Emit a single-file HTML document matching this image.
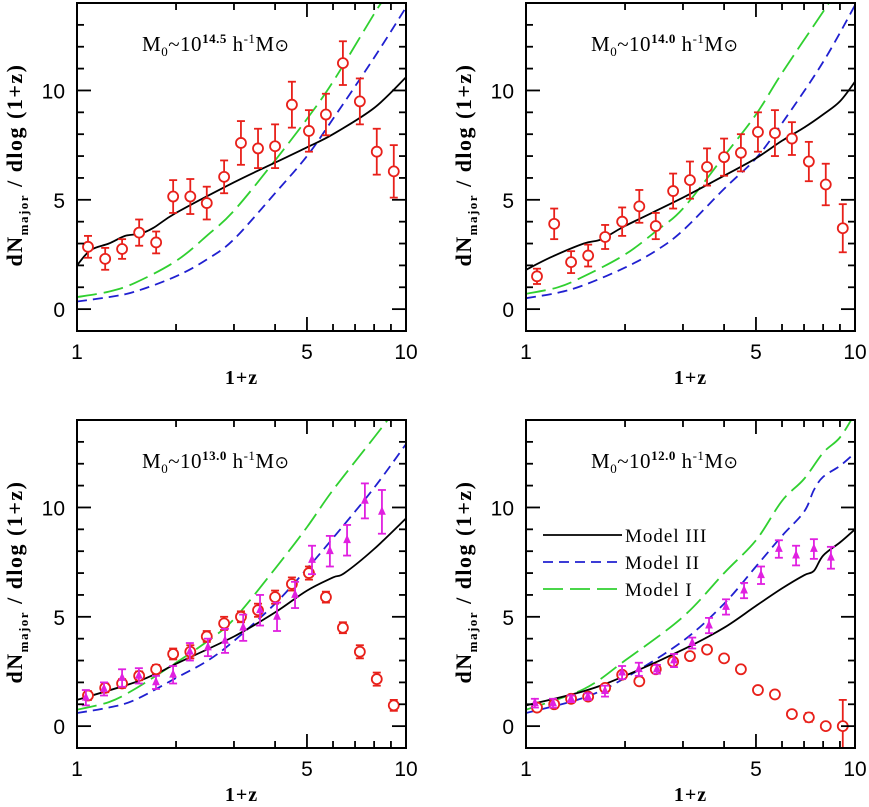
<!DOCTYPE html>
<html><head><meta charset="utf-8"><style>
body{margin:0;background:#fff;}
svg text{font-family:"Liberation Sans",sans-serif;}
</style></head><body>
<svg id="fig" width="869" height="802" viewBox="0 0 869 802" xmlns="http://www.w3.org/2000/svg"></svg>
<script>
// ---------- data ----------
const xRed = [1.08,1.218,1.371,1.545,1.74,1.96,2.21,2.48,2.80,3.15,3.55,4.0,4.5,5.07,5.71,6.43,7.24,8.15,9.18];
const xMag = [1.064,1.208,1.371,1.542,1.738,1.959,2.203,2.50,2.818,3.20,3.60,4.055,4.60,5.18,5.87,6.62,7.50,8.45];

const tlRed = [2.85,2.3,2.75,3.5,3.05,5.15,5.15,4.85,6.05,7.6,7.35,7.45,9.35,8.15,8.9,11.25,9.5,7.2,6.3];
const tlRedErr = [0.5,0.5,0.45,0.6,0.5,0.75,0.8,0.75,0.75,1.0,0.9,1.0,1.05,0.95,0.95,1.0,1.05,1.05,1.2];
const trRed = [1.5,3.9,2.15,2.45,3.3,4.0,4.7,3.8,5.4,5.9,6.5,6.95,7.15,8.1,8.05,7.8,6.75,5.7,3.7];
const trRedErr = [0.35,0.7,0.5,0.5,0.55,0.65,0.75,0.6,0.8,0.85,0.85,0.85,0.85,0.9,1.05,0.75,0.9,0.95,1.1];
const blRed = [1.4,1.75,1.95,2.3,2.6,3.3,3.4,4.1,4.7,5.0,5.3,5.9,6.5,7.0,5.9,4.5,3.4,2.15,0.95];
const blRedErr = [0.2,0.2,0.2,0.2,0.2,0.25,0.3,0.25,0.3,0.25,0.3,0.3,0.3,0.3,0.25,0.25,0.3,0.3,0.25];
const blMag = [1.3,1.7,2.2,2.3,2.0,2.35,3.4,3.6,3.9,4.5,5.3,5.0,6.0,7.6,8.0,8.5,10.3,9.8];
const blMagErr = [0.35,0.3,0.4,0.35,0.3,0.4,0.4,0.4,0.55,0.6,0.7,0.65,0.6,0.65,0.7,0.7,0.8,1.0];
const brRed = [0.85,1.0,1.25,1.35,1.75,2.35,2.05,2.6,2.95,3.2,3.5,3.1,2.6,1.65,1.45,0.55,0.4,0.0,0.0];
const brRedErr = [0.15,0.15,0.12,0.12,0.15,0.15,0.15,0.15,0.15,0.15,0.15,0.12,0.12,0.12,0.12,0.12,0.2,0.1,1.2];
const brMag = [1.05,1.05,1.25,1.35,1.6,2.45,2.6,2.6,3.0,3.8,4.6,5.45,6.2,6.9,8.1,7.8,8.1,7.7];
const brMagErr = [0.2,0.2,0.15,0.15,0.25,0.3,0.3,0.2,0.3,0.25,0.35,0.35,0.35,0.4,0.4,0.45,0.45,0.5];

const tlBlackX=[1,1.1,1.25,1.4,1.55,1.7,2,3,4,5,6,8,10], tlBlackY=[2.0,2.7,3.0,3.35,3.45,3.7,4.4,5.8,6.7,7.4,8.0,9.2,10.6];
const tlGreenX=[1,1.25,1.5,2,2.5,3,4,5,6,8,8.6], tlGreenY=[0.55,0.8,1.2,2.2,3.4,4.5,6.8,8.7,10.4,13.5,14.2];
const tlBlueX=[1,1.25,1.5,2,2.5,3,4,5,6,8,10], tlBlueY=[0.35,0.55,0.8,1.5,2.3,3.2,5.3,7.0,8.7,11.5,13.8];
const trBlackX=[1,1.2,1.5,1.7,2,3,4,5,6,7,8,9,10], trBlackY=[1.8,2.4,3.0,3.2,3.8,5.1,6.1,6.9,7.7,8.3,8.9,9.5,10.4];
const trGreenX=[1,1.25,1.5,2,2.5,3,4,5,6,8,8.5], trGreenY=[0.7,1.0,1.5,2.5,3.6,4.6,7.0,8.9,10.8,13.6,14.2];
const trBlueX=[1,1.25,1.5,2,2.5,3,4,5,6,8,10], trBlueY=[0.5,0.75,1.1,1.9,2.7,3.6,5.5,6.9,8.5,11.3,13.9];
const blBlackX=[1,1.5,1.8,2,3,4,5,6,6.5,8,10], blBlackY=[1.2,2.0,2.5,2.85,4.1,5.2,6.2,6.8,7.0,8.1,9.5];
const blGreenX=[1,1.25,1.5,2,2.5,3,4,5,6,8,9], blGreenY=[0.75,1.1,1.7,2.9,3.9,4.9,7.2,9.1,10.8,13.2,14.2];
const blBlueX=[1,1.25,1.5,2,2.5,3,4,5,6,8,10], blBlueY=[0.6,0.85,1.2,2.2,3.0,3.9,5.6,7.2,8.6,10.9,12.9];
const brBlackX=[1,1.5,2,3,4,5,6,7,7.5,8,9,10], brBlackY=[0.95,1.6,2.3,3.5,4.5,5.5,6.3,6.9,7.1,7.8,8.4,9.0];
const brBlueX=[1,1.5,2,3,4,5,6,7,7.5,8,9,10], brBlueY=[0.6,1.3,2.2,3.9,5.6,7.3,8.7,9.8,10.8,11.4,11.9,12.5];
const brGreenX=[1,1.5,2,3,4,5,6,7,8,9,10], brGreenY=[0.75,1.7,3.0,5.0,7.0,8.5,10.3,11.3,12.5,13.2,14.3];

const yTicks=[0,5,10], xTickLabels=["1","5","10"], xTickVals=[1,5,10];

// ---------- drawing ----------
const NS="http://www.w3.org/2000/svg";
const svg=document.getElementById('fig');
function mk(tag,attrs,parent){const e=document.createElementNS(NS,tag);for(const k in attrs)e.setAttribute(k,attrs[k]);(parent||svg).appendChild(e);return e;}
function smooth(pts){
  let d='M'+pts[0][0].toFixed(1)+' '+pts[0][1].toFixed(1);
  for(let i=0;i<pts.length-1;i++){
    const p0=pts[Math.max(0,i-1)],p1=pts[i],p2=pts[i+1],p3=pts[Math.min(pts.length-1,i+2)];
    const c1=[p1[0]+(p2[0]-p0[0])/6,p1[1]+(p2[1]-p0[1])/6];
    const c2=[p2[0]-(p3[0]-p1[0])/6,p2[1]-(p3[1]-p1[1])/6];
    d+=` C${c1[0].toFixed(1)} ${c1[1].toFixed(1)} ${c2[0].toFixed(1)} ${c2[1].toFixed(1)} ${p2[0].toFixed(1)} ${p2[1].toFixed(1)}`;
  }
  return d;
}

function panel(id,L,T,expo,red,redErr,mag,magErr,lines,legend){
  const W=329,H=328,ymin=-1,ymax=14;
  const g=mk('g',{});
  
  
  const sx=v=>L+W*Math.log10(v);
  const sy=v=>T+H*(ymax-v)/(ymax-ymin);
  const clip=mk('clipPath',{id:'c'+id},g);
  mk('rect',{x:L,y:T,width:W,height:H},clip);
  const cg=mk('g',{'clip-path':'url(#c'+id+')'},g);
  for(const ln of lines){
    const d=smooth(ln.x.map((v,i)=>[sx(v),sy(ln.y[i])]));
    const p=mk('path',{d:d,fill:'none',stroke:ln.c,'stroke-width':1.8,'stroke-dasharray':ln.dash||'none'},cg);
    
    
  }
  red.forEach((v,i)=>{
    const x=sx(xRed[i]),y=sy(v),e=redErr[i];
    const pg=mk('g',{stroke:'#e8201a','stroke-width':1.8,fill:'none'},cg);
    
    
    mk('line',{x1:x,x2:x,y1:sy(v+e),y2:sy(v-e)},pg);
    mk('line',{x1:x-4,x2:x+4,y1:sy(v+e),y2:sy(v+e)},pg);
    mk('line',{x1:x-4,x2:x+4,y1:sy(v-e),y2:sy(v-e)},pg);
    mk('circle',{cx:x,cy:y,r:5,fill:'#fff'},pg);
  });
  if(mag) mag.forEach((v,i)=>{
    const x=sx(xMag[i]),y=sy(v),e=magErr[i];
    const pg=mk('g',{stroke:'#e020e0','stroke-width':1.8,fill:'#e020e0'},cg);
    
    
    mk('line',{x1:x,x2:x,y1:sy(v+e),y2:sy(v-e)},pg);
    mk('line',{x1:x-4,x2:x+4,y1:sy(v+e),y2:sy(v+e)},pg);
    mk('line',{x1:x-4,x2:x+4,y1:sy(v-e),y2:sy(v-e)},pg);
    mk('path',{d:`M${x} ${y-3.5}L${x+2.5} ${y+2}L${x-2.5} ${y+2}Z`},pg);
  });
  const fr=mk('rect',{x:L,y:T,width:W,height:H,fill:'none',stroke:'#000','stroke-width':2},g);
  
  
  for(let d=1;d<=10;d++){
    const x=sx(d),len=(d===1||d===5||d===10)?14:7;
    mk('line',{x1:x,x2:x,y1:T+H,y2:T+H-len,stroke:'#000','stroke-width':1.8},g);
    mk('line',{x1:x,x2:x,y1:T,y2:T+len,stroke:'#000','stroke-width':1.8},g);
  }
  for(let v=ymin;v<=ymax;v++){
    const y=sy(v),len=(v%5===0)?14:7;
    mk('line',{x1:L,x2:L+len,y1:y,y2:y,stroke:'#000','stroke-width':1.8},g);
    mk('line',{x1:L+W,x2:L+W-len,y1:y,y2:y,stroke:'#000','stroke-width':1.8},g);
  }
  xTickVals.forEach((v,i)=>{
    const t=mk('text',{x:sx(v),y:T+H+28,'font-size':21,'text-anchor':'middle'},g);
    t.textContent=xTickLabels[i];
    
    
  });
  yTicks.forEach(v=>{
    const t=mk('text',{x:L-12,y:sy(v)+8,'font-size':21,'text-anchor':'end'},g);
    t.textContent=String(v);
    
    
  });
  const xt=mk('text',{x:L+W/2,y:T+H+53,'font-size':20,'text-anchor':'middle',style:'font-family:"Liberation Serif",serif;font-weight:bold;letter-spacing:1px'},g);
  xt.textContent='1+z';
  
  
  const yt=mk('text',{x:0,y:0,'font-size':22,'text-anchor':'middle',style:'font-family:"Liberation Serif",serif;font-weight:bold;letter-spacing:1.5px',transform:`translate(${L-55},${T+H/2-2}) rotate(-90)`},g);
  yt.innerHTML='dN<tspan font-size="13" dy="6">major</tspan><tspan dy="-6"> / dlog (1+z)</tspan>';
  
  
  const tt=mk('text',{x:L+65,y:T+48,'font-size':21,style:'font-family:"Liberation Serif",serif;letter-spacing:0.5px'},g);
  tt.innerHTML=`M<tspan font-size="13" dy="5">0</tspan><tspan dy="-5">~10</tspan><tspan font-size="13" dy="-8" font-weight="bold">${expo}</tspan><tspan dy="8"> h</tspan><tspan font-size="13" dy="-8">-1</tspan><tspan dy="8">M</tspan><tspan font-size="17">⊙</tspan>`;
  
  
  if(legend){
    const lg=mk('g',{},g);
    
    
    legend.forEach((e,i)=>{
      const y=T+115+i*27;
      const l=mk('line',{x1:L+17,x2:L+96,y1:y,y2:y,stroke:e.c,'stroke-width':1.8,'stroke-dasharray':e.dash||'none'},lg);
      
      
      const t=mk('text',{x:L+99,y:y+7,'font-size':19,style:'font-family:"Liberation Serif",serif;letter-spacing:1px'},lg);
      t.textContent=e.label;
      
      
    });
  }
}
const BLUE='#2020d0',GREEN='#30d030',BD='10 6',GD='20 7';
panel('tl',77,3,'14.5',tlRed,tlRedErr,null,null,[
  {x:tlGreenX,y:tlGreenY,c:GREEN,dash:GD,name:'model-i-line'},
  {x:tlBlueX,y:tlBlueY,c:BLUE,dash:BD,name:'model-ii-line'},
  {x:tlBlackX,y:tlBlackY,c:'#000',name:'model-iii-line'}]);
panel('tr',526,3,'14.0',trRed,trRedErr,null,null,[
  {x:trGreenX,y:trGreenY,c:GREEN,dash:GD,name:'model-i-line'},
  {x:trBlueX,y:trBlueY,c:BLUE,dash:BD,name:'model-ii-line'},
  {x:trBlackX,y:trBlackY,c:'#000',name:'model-iii-line'}]);
panel('bl',77,420,'13.0',blRed,blRedErr,blMag,blMagErr,[
  {x:blGreenX,y:blGreenY,c:GREEN,dash:GD,name:'model-i-line'},
  {x:blBlueX,y:blBlueY,c:BLUE,dash:BD,name:'model-ii-line'},
  {x:blBlackX,y:blBlackY,c:'#000',name:'model-iii-line'}]);
panel('br',526,420,'12.0',brRed,brRedErr,brMag,brMagErr,[
  {x:brGreenX,y:brGreenY,c:GREEN,dash:GD,name:'model-i-line'},
  {x:brBlueX,y:brBlueY,c:BLUE,dash:BD,name:'model-ii-line'},
  {x:brBlackX,y:brBlackY,c:'#000',name:'model-iii-line'}],
  [{label:'Model III',c:'#000'},{label:'Model II',c:BLUE,dash:BD},{label:'Model I',c:GREEN,dash:GD}]);
</script>
</body></html>
